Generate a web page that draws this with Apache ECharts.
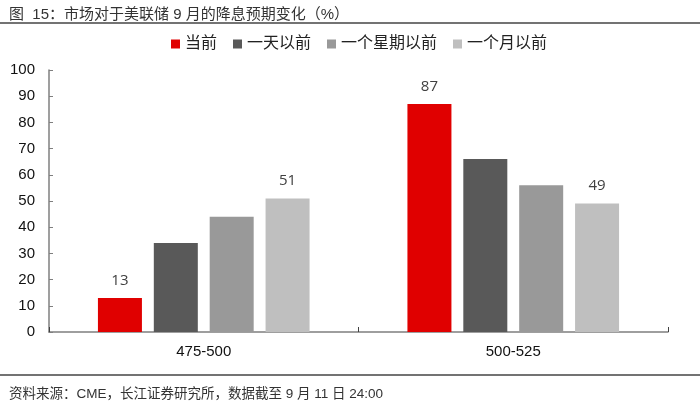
<!DOCTYPE html>
<html><head><meta charset="utf-8">
<script src="https://cdn.jsdelivr.net/npm/echarts@6/dist/echarts.min.js"></script>
<style>html,body{margin:0;padding:0;background:#fff}#c{width:700px;height:406px}</style>
</head><body><div id="c"></div>
<script>
const categories = ['475-500', '500-525'];
const seriesNames = ['当前', '一天以前', '一个星期以前', '一个月以前'];
const current = [13, 87];
const oneDayAgo = [34, 66];
const oneWeekAgo = [44, 56];
const oneMonthAgo = [51, 49];
const yTicks = [0, 10, 20, 30, 40, 50, 60, 70, 80, 90, 100];
const titleText = '图  15：市场对于美联储 9 月的降息预期变化（%）';
const sourceText = '资料来源：CME，长江证券研究所，数据截至 9 月 11 日 24:00';

const FONT = '"Liberation Sans", "Noto Sans CJK SC", sans-serif';
const colors = ['#e00000', '#595959', '#999999', '#bfbfbf'];
const values = [current, oneDayAgo, oneWeekAgo, oneMonthAgo];
const showLabel = [true, false, false, true];

const chart = echarts.init(document.getElementById('c'), null, {renderer: 'canvas'});
chart.setOption({
  animation: false,
  textStyle: {fontFamily: FONT},
  title: [{
    text: titleText, left: 4, top: 2,
    textStyle: {fontSize: 15, fontWeight: 'normal', color: '#333', fontFamily: FONT}
  }, {
    text: sourceText, left: 4, top: 383,
    textStyle: {fontSize: 13.5, fontWeight: 'normal', color: '#333', fontFamily: FONT}
  }],
  graphic: [
    {type: 'line', shape: {x1: 0, y1: 23, x2: 700, y2: 23}, style: {stroke: '#444', lineWidth: 1.5}},
    {type: 'line', shape: {x1: 0, y1: 375, x2: 700, y2: 375}, style: {stroke: '#444', lineWidth: 1.5}}
  ],
  legend: {
    data: seriesNames, top: 31, left: 166,
    itemWidth: 9, itemHeight: 9, itemGap: 16,
    icon: 'rect',
    textStyle: {fontSize: 16, color: '#222', fontFamily: FONT}
  },
  grid: {left: 49, right: 32, top: 70, bottom: 74, containLabel: false},
  xAxis: {
    type: 'category', data: categories,
    axisLine: {lineStyle: {color: '#7f7f7f', width: 1.5}},
    axisTick: {show: true, inside: true, length: 5, lineStyle: {color: '#404040'}},
    axisLabel: {fontSize: 15, color: '#111', margin: 12, fontFamily: FONT}
  },
  yAxis: {
    type: 'value', min: yTicks[0], max: yTicks[yTicks.length - 1], interval: 10,
    axisLine: {show: true, lineStyle: {color: '#7f7f7f', width: 1.5}},
    axisTick: {show: true, inside: true, length: 4, lineStyle: {color: '#7f7f7f'}},
    splitLine: {show: false},
    axisLabel: {fontSize: 15, color: '#111', margin: 14, fontFamily: FONT}
  },
  series: seriesNames.map((n, i) => ({
    name: n, type: 'bar', data: values[i],
    barWidth: 44, barGap: '27%', barCategoryGap: '31%',
    itemStyle: {color: colors[i]},
    label: {show: showLabel[i], position: 'top', distance: 10, fontSize: 15, color: '#404040', fontFamily: '"Open Sans", sans-serif'}
  }))
});
</script></body></html>
